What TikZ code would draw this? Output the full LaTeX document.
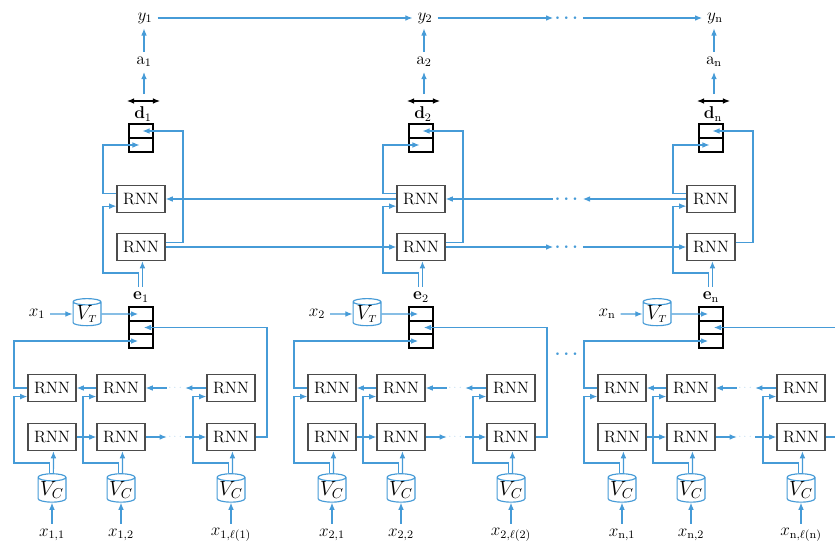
\documentclass[tikz,border=0pt]{standalone}
\usepackage{amsmath}
\usetikzlibrary{shapes.geometric,arrows.meta}
\definecolor{lnblue}{RGB}{70,155,215}

\begin{document}
\begin{tikzpicture}[x=0.7pt, y=-0.7pt, every node/.style={font=\large},
    rnn/.style={draw=black!70, line width=0.9pt, fill=white, minimum width=33.6pt, minimum height=19pt, inner sep=0pt, font=\fontsize{11.5}{13}\selectfont},
    cell/.style={draw, line width=1.1pt, minimum width=17pt, minimum height=9.6pt, inner sep=0pt},
    vocab/.style={cylinder, shape border rotate=90, aspect=0.3, draw=lnblue, line width=0.8pt, fill=white, minimum width=19.5pt, minimum height=18pt, inner sep=0pt, font=\Large},
    ar/.style={draw=lnblue, line width=0.8pt, -{Latex[length=5pt,width=4pt]}},
    dots/.style={text=lnblue, inner sep=1pt, font=\large\bfseries}]
\useasboundingbox (0,0) rectangle (835,546);

\foreach \c/\o/\s in {1/0/1, 2/280/2, n/570/\mathrm{n}} {
    % decoder
    \node (y\c) at ({\o+145},18) {$y_{\s}$};
    \node (a\c) at ({\o+144},62) {$\mathrm{a}_{\s}$};
    \coordinate (da\c) at ({\o+144},94);
    \coordinate (dl\c) at ({\o+127},101);
    \coordinate (dr\c) at ({\o+160},101);
    \node (d\c) at ({\o+143},114) {$\mathbf{d}_{\s}$};
    \node[cell] (dt\c) at ({\o+141},131) {};
    \node[cell] (db\c) at ({\o+141},145) {};
    \node[rnn] (up\c) at ({\o+141},199) {RNN};
    \node[rnn] (lo\c) at ({\o+141},247) {RNN};

    \draw[ar] (a\c) -- (a\c |- y\c.south);
    \draw[ar] (da\c) -- (a\c);
    \draw[{Latex[length=5pt,width=4pt]}-{Latex[length=5pt,width=4pt]}, line width=0.8pt] (dl\c) -- (dr\c);
    \draw[ar] ([yshift=4pt]up\c.west) -| ({\o+103},145) |- ([xshift=-1pt]db\c.center);
    \draw[ar] ([yshift=3pt]lo\c.east) -| ({\o+183},131) |- ([xshift=1pt]dt\c.center);

    % encoder
    \node (e\c) at ({\o+141},297) {$\mathbf{e}_{\s}$};
    \node[cell] (et\c) at ({\o+141},314) {};
    \node[cell] (em\c) at ({\o+141},327.5) {};
    \node[cell] (eb\c) at ({\o+141},341) {};
    \node[vocab] (vt\c) at ({\o+87},314) {$V_{\scriptscriptstyle T}$};
    \node (x\c) at ({\o+37},314) {$x_{\s}$};

    \draw[ar] ([xshift=1pt]e\c.north) -- ([xshift=1pt]lo\c.south);
    \draw[ar] ([xshift=-2pt]e\c.north) |- ({\o+103},273) |- ([yshift=-5pt]up\c.west);
    \draw[ar] (x\c) -- (vt\c);
    \draw[ar] (vt\c) -- ([xshift=-2pt]et\c.center);

    \foreach \j/\p/\t in {1/52/1, 2/121/2, 3/231/{\ell(\s)}} {
        \node[rnn] (ru\c\j) at ({\o+\p},388) {RNN};
        \node[rnn] (rl\c\j) at ({\o+\p},437) {RNN};
        \node[vocab] (vc\c\j) at ({\o+\p},490) {$V_C$};
        \node (xc\c\j) at ({\o+\p},535) {$x_{\s,\t}$};
        \draw[ar] (xc\c\j) -- (vc\c\j);
        \draw[ar] ([xshift=1pt]vc\c\j.north) -- ([xshift=1pt]rl\c\j.south);
        \draw[ar] ([xshift=-2pt]vc\c\j.north) |- ({\o+\p-38},463) |- ([yshift=-6pt]ru\c\j.west);
    }

    \node[dots, font=\tiny] (fd\c) at ({\o+176},437) {$\cdots$};
    \node[dots, font=\tiny] (bd\c) at ({\o+176},388) {$\cdots$};
    \draw[ar] (rl\c1) -- (rl\c2);
    \draw[ar] (ru\c2) -- (ru\c1);
    \draw[ar] (rl\c2) -- (fd\c);
    \draw[ar] (fd\c) -- (rl\c3);
    \draw[ar] (ru\c3) -- (bd\c);
    \draw[ar] (bd\c) -- (ru\c2);
    \draw[ar] (rl\c3.east) -| ({\o+267},327) |- ([xshift=2pt]em\c.center);
    \draw[ar] (ru\c1.west) -| ({\o+14},341) |- ([xshift=-2pt]eb\c.center);
}

% links between the columns
\node[dots] (td) at (568,18) {$\boldsymbol{\cdots}$};
\node[dots] (ud) at (568,199) {$\boldsymbol{\cdots}$};
\node[dots] (ld) at (568,247) {$\boldsymbol{\cdots}$};
\node[dots] (ed) at (568,354) {$\boldsymbol{\cdots}$};
\draw[ar] (y1) -- (y2);
\draw[ar] (y2) -- (td);
\draw[ar] (td) -- (yn);
\draw[ar] (up2) -- (up1);
\draw[ar] (upn) -- (ud);
\draw[ar] (ud) -- (up2);
\draw[ar] (lo1) -- (lo2);
\draw[ar] (lo2) -- (ld);
\draw[ar] (ld) -- (lon);
\end{tikzpicture}
\end{document}
